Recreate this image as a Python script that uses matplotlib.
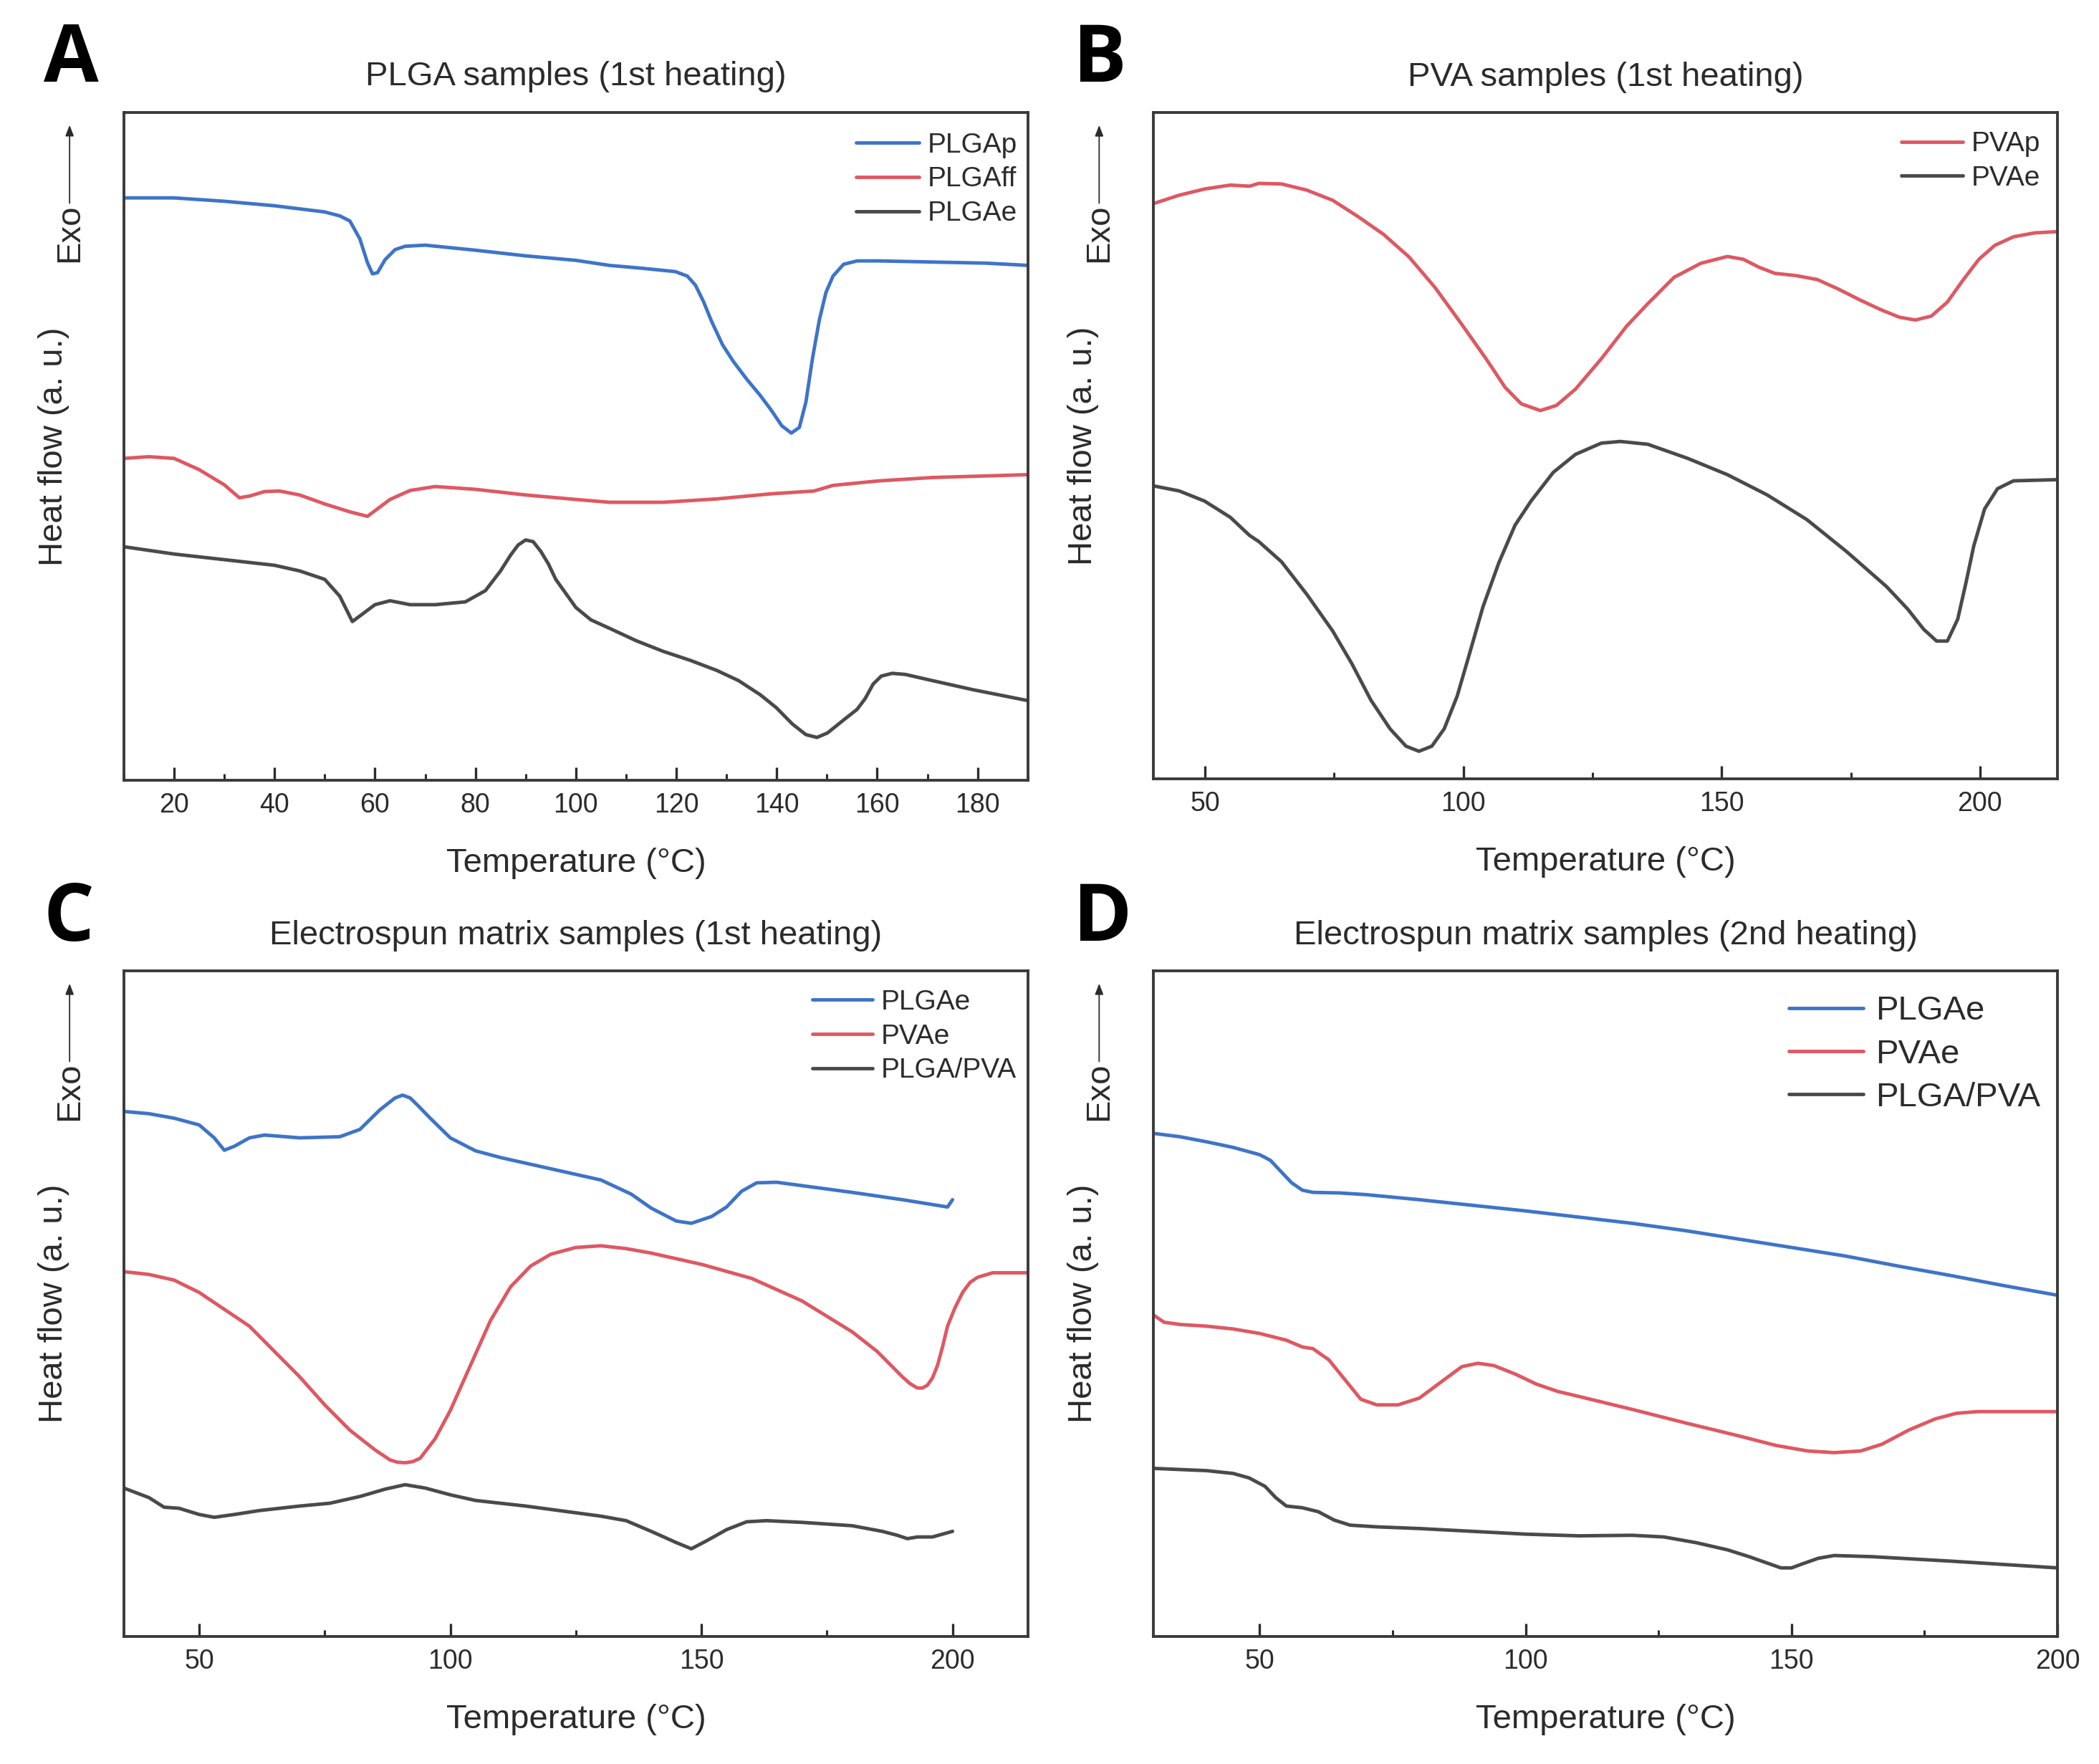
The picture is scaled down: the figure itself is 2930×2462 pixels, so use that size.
import matplotlib
matplotlib.use("Agg")
import matplotlib.pyplot as plt
from matplotlib.ticker import MultipleLocator

plt.rcParams["font.family"] = ["Liberation Sans", "DejaVu Sans"]

BLUE = "#3e74c8"
RED = "#de5862"
GRAY = "#4a4a4a"
INK = "#2b2b2b"

# ---- Panel A: PLGA samples (1st heating) ----
a_plgap_t = [10, 20, 30, 40, 50, 53, 55, 57, 58.5, 59.5, 60.5, 62, 64, 66, 70, 80, 90, 100,
             106.7, 113.1, 119.8, 122.2, 123.8, 125.4, 127.0, 129.2, 131.3, 134.0, 136.7,
             138.8, 141.0, 142.9, 144.5, 145.8, 147.1, 148.5, 149.8, 151.2, 153.3, 156.0,
             160.3, 171.0, 181.7, 190]
a_plgap_h = [1035, 1035, 1029, 1021, 1010, 1003, 994, 962, 920, 900, 902, 925, 943, 949, 951,
             942, 932, 924, 915, 910, 904, 896, 880, 851, 816, 774, 745, 713, 684, 659, 630,
             617, 627, 672, 749, 819, 867, 896, 917, 923, 923, 921, 919, 915]
a_plgaff_t = [10, 15, 20, 25, 30, 33, 35, 38, 41, 45, 50, 55, 58.5, 60, 63, 67, 72, 80, 90,
              100, 106.7, 117.4, 128.1, 138.8, 147.4, 151.2, 160.3, 171.0, 189.7, 190]
a_plgaff_h = [572, 575, 572, 552, 525, 502, 505, 513, 514, 507, 491, 477, 469, 479, 499, 515,
              522, 517, 507, 499, 494, 494, 500, 509, 514, 524, 532, 538, 543, 543]
a_plgae_t = [10, 20, 30, 40, 45, 50, 53, 55.5, 57, 60, 63, 67, 72, 78, 82, 85, 87, 88.5, 90,
             91.5, 93, 94.5, 96, 100, 103, 106.7, 112.0, 117.4, 122.8, 128.1, 132.4, 136.7,
             139.9, 143.1, 145.8, 148.0, 150.1, 153.3, 156.0, 157.6, 159.2, 160.8, 163.0,
             165.6, 171.0, 179.0, 189.7, 190]
a_plgae_h = [415, 402, 392, 382, 372, 357, 327, 282, 292, 312, 319, 312, 312, 317, 337, 372,
             400, 418, 427, 424, 407, 385, 357, 307, 285, 270, 248, 229, 213, 195, 177, 152,
             129, 100, 81, 76, 84, 107, 126, 145, 171, 185, 190, 188, 177, 161, 142, 142]

# ---- Panel B: PVA samples (1st heating) ----
b_pvap_t = [40, 45, 49.9, 54.9, 58.6, 60.4, 64.8, 69.7, 74.7, 79.6, 84.6, 89.5, 94.5, 99.4,
            104.4, 108.1, 111.2, 114.9, 118.0, 121.7, 126.7, 131.6, 135.7, 140.8, 146.0,
            151.1, 154.2, 157.2, 160.3, 164.4, 168.5, 172.6, 176.7, 180.9, 184.4, 187.5,
            190.6, 193.7, 196.8, 199.8, 202.9, 206.5, 210.6, 214.7, 215]
b_pvap_h = [1023, 1038, 1049, 1056, 1054, 1059, 1058, 1047, 1029, 1000, 968, 928, 874, 812,
            747, 696, 667, 655, 664, 693, 747, 805, 845, 892, 917, 929, 924, 910, 899, 895,
            888, 871, 852, 834, 821, 816, 823, 848, 888, 924, 949, 964, 971, 973, 973]
b_pvae_t = [40, 45, 49.9, 54.9, 58.6, 60.4, 64.8, 69.7, 74.7, 78.4, 82.1, 85.8, 88.9, 91.4,
            93.9, 96.3, 98.8, 101.3, 103.8, 106.9, 110.0, 113.1, 117.4, 121.7, 126.7, 130.4,
            135.7, 143.4, 151.1, 158.8, 166.5, 174.2, 181.9, 186.0, 189.1, 191.6, 193.7,
            195.7, 197.3, 198.8, 200.9, 203.4, 206.5, 214.7, 215]
b_pvae_h = [521, 512, 494, 465, 433, 422, 386, 328, 263, 205, 140, 89, 58, 49, 58, 89, 147,
            226, 306, 385, 451, 494, 545, 577, 597, 600, 595, 570, 541, 505, 461, 404, 342,
            302, 266, 245, 245, 284, 349, 414, 480, 516, 530, 532, 532]

# ---- Panel C: electrospun matrix samples (1st heating) ----
c_plgae_t = [35, 40, 45, 50, 53, 55, 57, 60, 63, 70, 78, 82, 86, 89, 90.5, 92, 93.5, 96, 100,
             105, 110, 120, 130, 136, 140, 145, 148, 152, 155, 158, 161, 165, 170, 180, 190,
             199, 200]
c_plgae_h = [934, 930, 922, 910, 887, 865, 872, 887, 892, 887, 889, 902, 937, 958, 963, 958,
             945, 922, 887, 864, 852, 832, 812, 787, 762, 739, 735, 747, 764, 792, 807, 808,
             802, 790, 777, 764, 777]
c_pvae_t = [35, 40, 45, 50, 55, 60, 65, 70, 75, 80, 85, 88, 89.5, 91, 92.5, 94, 97, 100, 104,
            108, 112, 116, 120, 125, 130, 135, 140, 150, 160, 170, 180, 185, 190, 191.5, 193,
            194, 195, 196, 197, 198, 199, 200.5, 202, 203.5, 205, 208, 215]
c_pvae_h = [649, 644, 634, 612, 582, 552, 507, 462, 412, 367, 332, 314, 310, 309, 311, 317,
            352, 402, 482, 562, 622, 659, 680, 692, 695, 690, 682, 662, 637, 597, 542, 507,
            462, 450, 442, 442, 447, 460, 482, 515, 552, 585, 612, 630, 639, 647, 647]
c_blend_t = [35, 40, 43, 46, 50, 53, 57, 62, 70, 76, 82, 87, 91, 95, 100, 105, 115, 130, 135,
             140, 145, 148, 151, 155, 159, 163, 170, 180, 186, 189, 191, 193, 196, 200]
c_blend_h = [264, 247, 230, 228, 217, 212, 217, 224, 232, 237, 249, 262, 270, 264, 252, 242,
             232, 214, 206, 187, 167, 156, 170, 190, 204, 206, 203, 197, 187, 180, 174, 177,
             177, 187]

# ---- Panel D: electrospun matrix samples (2nd heating) ----
d_plgae_t = [30, 35, 40, 45, 50, 52, 54, 56, 58, 60, 65, 70, 80, 90, 100, 110, 120, 130, 140,
             150, 160, 170, 180, 190, 200]
d_plgae_h = [895, 889, 880, 870, 857, 847, 827, 807, 794, 790, 789, 786, 777, 767, 757, 746,
             735, 722, 707, 692, 677, 659, 642, 624, 607]
d_pvae_t = [30, 32, 35, 40, 45, 50, 55, 58, 60, 63, 66, 69, 72, 76, 80, 84, 88, 91, 94, 98,
            102, 106, 110, 120, 130, 140, 147, 153, 158, 163, 167, 172, 177, 181, 185, 200]
d_pvae_h = [572, 559, 555, 552, 547, 539, 527, 515, 512, 492, 457, 422, 412, 412, 424, 452,
            480, 486, 482, 467, 449, 436, 427, 404, 380, 357, 340, 330, 327, 330, 342, 367,
            387, 397, 400, 400]
d_blend_t = [30, 35, 40, 45, 48, 51, 53, 55, 58, 61, 64, 67, 72, 80, 90, 100, 110, 120, 126,
             132, 138, 142, 145, 148, 150, 152, 155, 158, 165, 180, 200]
d_blend_h = [299, 297, 295, 290, 282, 267, 247, 232, 229, 222, 207, 198, 195, 192, 187, 182,
             179, 180, 177, 167, 154, 142, 132, 122, 122, 129, 139, 144, 142, 134, 122]


def style_axes(ax, xlim, ylim, major, minor):
    ax.set_xlim(*xlim)
    ax.set_ylim(*ylim)
    ax.xaxis.set_major_locator(MultipleLocator(major))
    ax.xaxis.set_minor_locator(MultipleLocator(minor))
    ax.set_yticks([])
    ax.tick_params(axis="x", which="major", direction="in", length=13, width=2.4,
                   color=INK, labelsize=27, labelcolor=INK, pad=12)
    ax.tick_params(axis="x", which="minor", direction="in", length=6.5, width=2.2,
                   color=INK)
    for sp in ax.spines.values():
        sp.set_linewidth(2.8)
        sp.set_color("#3a3a3a")
    ax.set_xlabel("Temperature (°C)", fontsize=34, color=INK, labelpad=30)
    ax.set_ylabel("Heat flow (a. u.)", fontsize=34, color=INK)
    ax.yaxis.set_label_coords(-0.060, 0.5)
    ax.text(-0.060, 0.819, "Exo", transform=ax.transAxes, rotation=90, fontsize=34,
            color=INK, ha="center", va="center")
    ax.annotate("", xy=(-0.060, 0.981), xytext=(-0.060, 0.864),
                xycoords="axes fraction", textcoords="axes fraction",
                arrowprops=dict(arrowstyle="-|>,head_length=0.9,head_width=0.35",
                                color=INK, lw=1.3, shrinkA=0, shrinkB=0),
                annotation_clip=False)


def add_legend(ax, anchor, size, hlen, tpad, lspace):
    ax.legend(loc="upper right", bbox_to_anchor=anchor, frameon=False, fontsize=size,
              handlelength=hlen, handletextpad=tpad, labelspacing=lspace,
              borderaxespad=0, borderpad=0, labelcolor=INK)


fig = plt.figure(figsize=(29.30, 24.62), dpi=100)
w = 0.4307
ax_a = fig.add_axes([0.0590, 0.5577, w, 0.3786])
ax_b = fig.add_axes([0.5495, 0.5585, w, 0.3777])
ax_c = fig.add_axes([0.0590, 0.0723, w, 0.3773])
ax_d = fig.add_axes([0.5495, 0.0723, w, 0.3773])

line_kw = dict(lw=3.5, solid_joinstyle="round", solid_capstyle="round")
title_kw = dict(fontsize=34, color=INK, pad=27)

# A
ax_a.plot(a_plgap_t, a_plgap_h, color=BLUE, label="PLGAp", **line_kw)
ax_a.plot(a_plgaff_t, a_plgaff_h, color=RED, label="PLGAff", **line_kw)
ax_a.plot(a_plgae_t, a_plgae_h, color=GRAY, label="PLGAe", **line_kw)
style_axes(ax_a, (10, 190), (0, 1187), 20, 10)
ax_a.set_title("PLGA samples (1st heating)", **title_kw)
add_legend(ax_a, (0.988, 0.970), 28, 2.26, 0.3, 0.3)

# B
ax_b.plot(b_pvap_t, b_pvap_h, color=RED, label="PVAp", **line_kw)
ax_b.plot(b_pvae_t, b_pvae_h, color=GRAY, label="PVAe", **line_kw)
style_axes(ax_b, (40, 215), (0, 1185), 50, 25)
ax_b.set_title("PVA samples (1st heating)", **title_kw)
add_legend(ax_b, (0.981, 0.972), 28, 2.2, 0.3, 0.3)

# C
ax_c.plot(c_plgae_t, c_plgae_h, color=BLUE, label="PLGAe", **line_kw)
ax_c.plot(c_pvae_t, c_pvae_h, color=RED, label="PVAe", **line_kw)
ax_c.plot(c_blend_t, c_blend_h, color=GRAY, label="PLGA/PVA", **line_kw)
style_axes(ax_c, (35, 215), (0, 1184), 50, 25)
ax_c.set_title("Electrospun matrix samples (1st heating)", **title_kw)
add_legend(ax_c, (0.987, 0.972), 28, 2.15, 0.3, 0.3)

# D
ax_d.plot(d_plgae_t, d_plgae_h, color=BLUE, label="PLGAe", **line_kw)
ax_d.plot(d_pvae_t, d_pvae_h, color=RED, label="PVAe", **line_kw)
ax_d.plot(d_blend_t, d_blend_h, color=GRAY, label="PLGA/PVA", **line_kw)
style_axes(ax_d, (30, 200), (0, 1184), 50, 25)
ax_d.set_title("Electrospun matrix samples (2nd heating)", **title_kw)
add_legend(ax_d, (0.981, 0.963), 34, 2.2, 0.36, 0.34)

# panel letters
for letter, x, y in [("A", 0.0208, 0.9537), ("B", 0.5113, 0.9537),
                     ("C", 0.0208, 0.4667), ("D", 0.5113, 0.4667)]:
    fig.text(x, y, letter, fontsize=80, fontweight="bold", family="Open Sans",
             color="black", ha="left", va="baseline")

fig.savefig("out.png", dpi=100, facecolor="white")
